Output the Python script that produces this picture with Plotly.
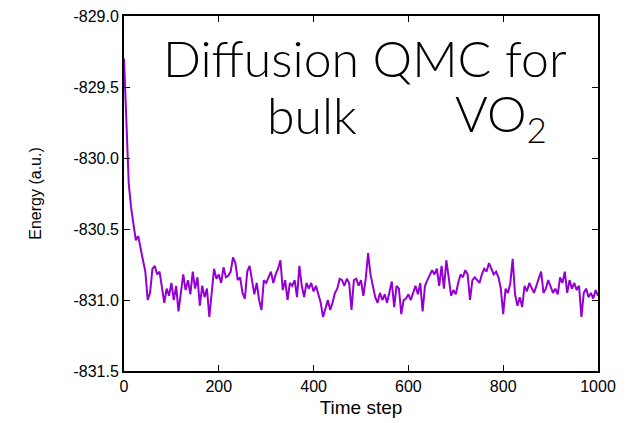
import plotly.graph_objects as go

steps = list(range(0, 1001, 5))
energy = [
    -829.30, -829.70, -830.18, -830.35, -830.45, -830.58, -830.55, -830.65, -830.72, -830.80,
    -831.00, -830.95, -830.78, -830.76, -830.82, -830.80, -830.90, -831.02, -830.92, -830.97,
    -830.88, -831.00, -830.90, -831.08, -830.95, -830.82, -830.93, -830.86, -830.96, -830.80,
    -830.92, -830.84, -831.04, -830.90, -830.98, -830.92, -831.12, -830.95, -830.78, -830.85,
    -830.82, -830.88, -830.77, -830.84, -830.83, -830.80, -830.70, -830.74, -830.86, -830.84,
    -830.95, -830.99, -830.80, -830.76, -830.86, -830.96, -830.88, -831.00, -831.07, -830.86,
    -830.88, -830.84, -830.80, -830.88, -830.82, -830.78, -830.72, -830.93, -830.86, -831.00,
    -830.88, -830.90, -830.86, -830.98, -830.76, -830.90, -830.98, -830.88, -830.92, -830.88,
    -830.94, -830.90, -830.96, -831.02, -831.12, -831.05, -831.00, -831.07, -831.02, -830.95,
    -830.92, -830.85, -830.86, -830.90, -830.85, -830.88, -831.07, -830.86, -830.85, -830.90,
    -830.86, -830.97, -830.85, -830.67, -830.82, -830.90, -830.98, -831.02, -830.95, -831.00,
    -830.96, -831.02, -830.95, -830.87, -831.05, -830.90, -830.92, -831.10, -831.00, -830.99,
    -830.96, -831.00, -830.95, -830.90, -830.96, -830.88, -831.08, -830.90, -830.86, -830.82,
    -830.79, -830.82, -830.78, -830.90, -830.76, -830.92, -830.72, -830.84, -830.97, -830.93,
    -830.96, -830.88, -830.82, -830.84, -830.79, -830.82, -831.00, -830.86, -830.84, -830.86,
    -830.88, -830.82, -830.78, -830.80, -830.74, -830.78, -830.82, -830.80, -830.84, -830.92,
    -831.10, -830.92, -830.95, -830.88, -830.71, -830.96, -831.04, -830.98, -831.05, -830.90,
    -830.94, -830.88, -830.92, -830.95, -830.90, -830.85, -830.80, -830.95, -830.92, -830.86,
    -830.90, -830.95, -830.92, -830.96, -830.84, -830.88, -830.80, -830.95, -830.86, -830.92,
    -830.88, -830.93, -830.90, -831.12, -830.95, -830.92, -830.98, -830.95, -830.99, -830.93,
    -830.97,
]

x_ticks = [0, 200, 400, 600, 800, 1000]
y_ticks = [-829.0, -829.5, -830.0, -830.5, -831.0, -831.5]

L, R, T, B = 124, 598, 16, 371
W, H = 638, 423

fig = go.Figure()
fig.add_trace(go.Scatter(x=steps, y=energy, mode="lines",
                         line=dict(color="#9400D3", width=2), showlegend=False))

tick_font = dict(family="Liberation Sans, Arial", size=16, color="black")
axis_common = dict(showline=True, linecolor="black", linewidth=2, mirror="ticks",
                   ticks="inside", ticklen=6, tickwidth=1, tickcolor="black",
                   showgrid=False, zeroline=False, tickfont=tick_font, automargin=False)

fig.update_xaxes(range=[0, 1000], tickvals=x_ticks, ticktext=[str(v) for v in x_ticks],
                 title=dict(text="Time step", font=dict(family="Liberation Sans, Arial", size=19, color="black"),
                            standoff=6),
                 **axis_common)
fig.update_yaxes(range=[-831.5, -829.0], tickvals=y_ticks, ticktext=[f"{v:.1f}" for v in y_ticks],
                 title=dict(text="Energy (a.u.)", font=dict(family="Liberation Sans, Arial", size=16, color="black"),
                            standoff=28),
                 **axis_common)

def px(xp):
    return (xp - L) / (R - L)

def py(yp):
    return (B - yp) / (B - T)

title_font = dict(family="Lato", size=50, color="black", weight=300)
fig.add_annotation(text="Diffusion QMC for", xref="paper", yref="paper",
                   x=px(365), y=py(58), xanchor="center", yanchor="middle",
                   showarrow=False, font=title_font)
fig.add_annotation(text="bulk", xref="paper", yref="paper",
                   x=px(265), y=py(115), xanchor="left", yanchor="middle",
                   showarrow=False, font=title_font)
fig.add_annotation(text="VO<sub>2</sub>", xref="paper", yref="paper",
                   x=px(549), y=py(117), xanchor="right", yanchor="middle",
                   showarrow=False, font=title_font)

fig.update_layout(width=W, height=H, margin=dict(l=L, r=W - R, t=T, b=H - B),
                  plot_bgcolor="white", paper_bgcolor="white")

fig.write_html("out.html")
